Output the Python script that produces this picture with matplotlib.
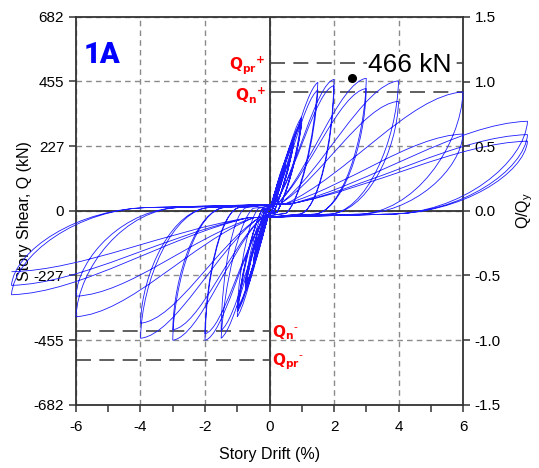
import numpy as np
import matplotlib
matplotlib.use('Agg')
import matplotlib.pyplot as plt
from matplotlib.path import Path
from matplotlib.patches import PathPatch

plt.rcParams['font.family'] = ['Liberation Sans', 'DejaVu Sans']
plt.rcParams['axes.unicode_minus'] = False

# region Data
# loading protocol: drift amplitude of each cycle (%)
drift_amp = [0.375, 0.375, 0.375, 0.375, 0.375, 0.375,
             0.5, 0.5, 0.5, 0.5, 0.5, 0.5,
             0.75, 0.75, 0.75, 0.75, 0.75, 0.75,
             1.0, 1.0, 1.0, 1.0,
             1.5, 1.5, 2.0, 2.0, 3.0, 3.0, 4.0, 4.0, 6.0, 6.0,
             8.0, 8.0, 8.0]
# peak story shear reached in each cycle (kN), positive and negative direction
q_pos = [135, 130, 128, 126, 125, 124,
         180, 175, 172, 170, 168, 166,
         255, 248, 244, 240, 238, 236,
         330, 318, 312, 308,
         452, 425, 462, 440, 466, 430, 457, 385, 418, 270,
         315, 268, 245]
q_neg = [145, 140, 137, 135, 134, 133,
         195, 188, 184, 182, 180, 178,
         285, 275, 270, 266, 262, 260,
         372, 355, 348, 342,
         448, 420, 455, 432, 455, 418, 448, 395, 372, 300,
         295, 262, 214]

q_max = (2.57, 466)          # marked maximum
q_pr = (520, -524)           # probable strength, + / -
q_n = (418, -422)            # nominal strength, + / -
q_y = 455                    # normalising shear for right axis
y_ticks = [-682, -455, -227, 0, 227, 455, 682]
# endregion

slip = 12  # load level of the pinched slip branch (kN)


def blend(a, b, f):
    return (a[0] + (b[0] - a[0]) * f, a[1] + (b[1] - a[1]) * f)


# build hysteresis path (bezier segments between successive peaks)
peaks = []
for d, qp, qn in zip(drift_amp, q_pos, q_neg):
    peaks.append((d, qp))
    peaks.append((-d, -qn))

verts = [(0.0, 0.0)]
codes = [Path.MOVETO]
prev = (0.0, 0.0)
for xp, yp in peaks:
    s = np.sign(xp)
    x0, y0 = prev
    D0, Dp = abs(x0), abs(xp)
    n = float(np.clip(max(D0, Dp) / 2.0, 0.3, 1.0))

    # unloading from previous peak
    xu = x0 + s * D0 * (1 - 0.45 * n)
    yu = s * slip * n
    c1 = blend(blend(prev, (xu, yu), 1 / 3), (x0 + s * 0.01 * D0, y0 * 0.55), n)
    c2 = blend(blend(prev, (xu, yu), 2 / 3), (xu - s * 0.3 * D0, yu), n)
    verts += [c1, c2, (xu, yu)]
    codes += [Path.CURVE4] * 3

    # slip
    xr = s * 0.08 * Dp * n
    yr = s * 2 * slip * n
    verts.append((xr, yr))
    codes.append(Path.LINETO)

    # reloading towards new peak
    w = xp - xr
    h = yp - yr
    c1 = blend((xr + w / 3, yr + h * 0.36), (xr + 0.35 * w, yr + 0.25 * h), n)
    c2 = blend((xr + 2 * w / 3, yr + h * 0.75), (xp - 0.3 * w, yr + 0.97 * h), n)
    verts += [c1, c2, (xp, yp)]
    codes += [Path.CURVE4] * 3
    prev = (xp, yp)

fig = plt.figure(figsize=(5.39, 4.68), dpi=100)
ax = fig.add_axes([0.141, 0.135, 0.718, 0.829])

ax.set_xlim(-6, 6)
ax.set_ylim(-682, 682)
ax.grid(True, ls=(0, (4, 3)), color='#8a8a8a', lw=1.0)
ax.set_axisbelow(True)
ax.axhline(0, color='#333333', lw=1.3, zorder=1.5)
ax.axvline(0, color='#333333', lw=1.3, zorder=1.5)

# strength levels
ax.hlines([q_pr[0], q_n[0]], 0, 6, colors='#444444', lw=1.2, linestyles=(0, (9, 5)), zorder=1.6)
ax.hlines([q_pr[1], q_n[1]], -6, 0, colors='#444444', lw=1.2, linestyles=(0, (9, 5)), zorder=1.6)

hyst = PathPatch(Path(verts, codes), fill=False, ec='#1c1cff', lw=0.6, clip_on=False, zorder=3)
ax.add_patch(hyst)

ax.plot(*q_max, 'o', color='black', ms=5.5, zorder=4)
ax.text(4.35, 513, '466 kN', fontsize=19, ha='center', va='center', zorder=5,
        bbox=dict(facecolor='white', edgecolor='none', pad=0.5))
ax.text(-5.75, 548, '1A', fontsize=21, fontweight=900, family=['Roboto', 'DejaVu Sans'],
        color='#0000ff', va='center')

red = dict(color='#ff0000', fontsize=11, zorder=5)
ax.text(-0.12, q_pr[0] - 8, r'$\mathbf{Q_{pr}}^{\mathbf{+}}$', ha='right', va='center', **red)
ax.text(-0.12, q_n[0] - 12, r'$\mathbf{Q_{n}}^{\mathbf{+}}$', ha='right', va='center', **red)
ax.text(0.08, q_n[1] - 8, r'$\mathbf{Q_{n}}^{\text{-}}$', ha='left', va='center', **red)
ax.text(0.08, q_pr[1] - 8, r'$\mathbf{Q_{pr}}^{\text{-}}$', ha='left', va='center', **red)

ax.set_xticks(np.arange(-6, 7, 2))
ax.set_xticks(np.arange(-5, 6, 2), minor=True)
ax.set_xticklabels([str(v) for v in range(-6, 7, 2)])
ax.set_yticks(y_ticks)
ax.set_yticklabels([str(v) for v in y_ticks])
ax.tick_params(axis='both', which='both', direction='out', length=5, width=1.1,
               color='#333333', labelsize=11, top=False, right=False)
ax.tick_params(axis='x', pad=6)
for sp in ax.spines.values():
    sp.set_color('#333333')
    sp.set_linewidth(1.3)

ax.set_xlabel('Story Drift (%)', fontsize=11.5, labelpad=9)
ax.set_ylabel('Story Shear, Q (kN)', fontsize=11.5, labelpad=1)

ax2 = ax.twinx()
ax2.set_ylim(-682 / q_y, 682 / q_y)
ax2.set_yticks([-1.5, -1.0, -0.5, 0.0, 0.5, 1.0, 1.5])
ax2.set_yticklabels(['%.1f' % v for v in [-1.5, -1.0, -0.5, 0.0, 0.5, 1.0, 1.5]])
ax2.tick_params(axis='y', direction='out', length=5, width=1.1, color='#333333', labelsize=11)
for sp in ax2.spines.values():
    sp.set_visible(False)
ax2.set_ylabel('Q/Q$_\\mathregular{y}$', fontsize=11.5, labelpad=10)

fig.savefig('out.png', dpi=100)
